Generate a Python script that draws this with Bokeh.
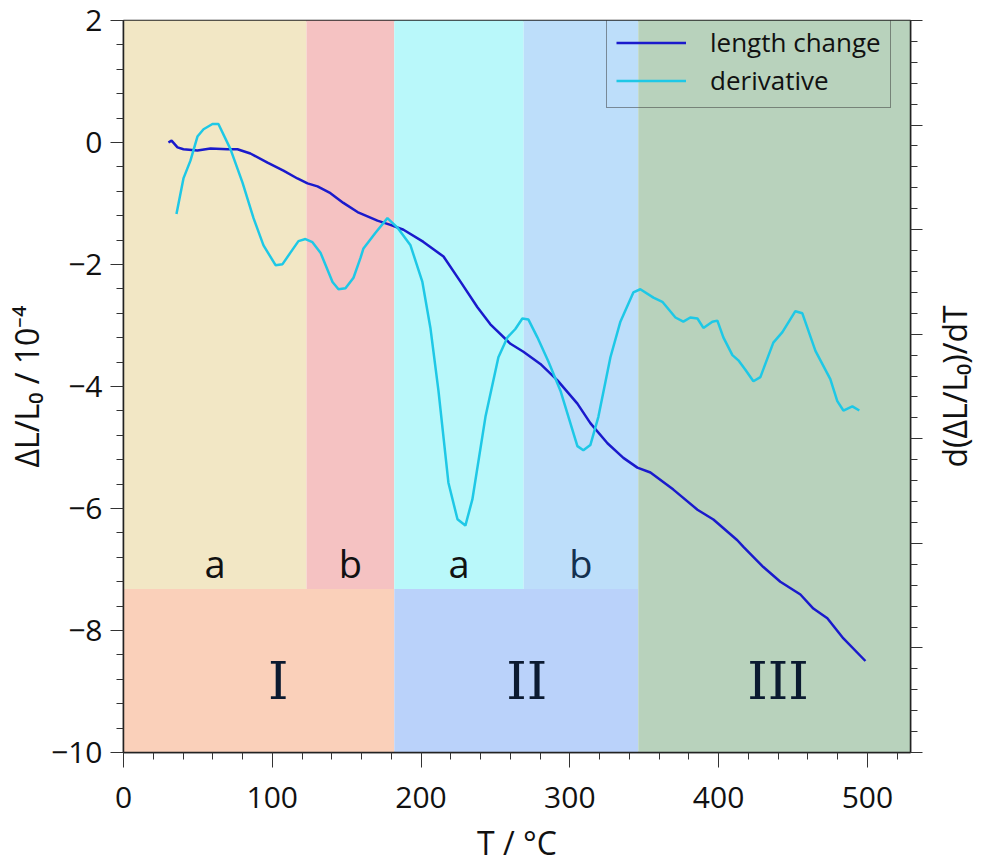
import numpy as np
from bokeh.plotting import figure
from bokeh.layouts import row
from bokeh.models import (Range1d, LinearAxis, SingleIntervalTicker, Legend, LegendItem,
                          CustomLabelingPolicy)
from bokeh.core.properties import value
from bokeh.embed import file_html
from bokeh.resources import INLINE

# ---- data ----
T_len = [30.2, 32.3, 36.3, 40.3, 49.7, 58.5, 69.9, 76.6, 85.3, 96.8, 107.5, 116.9, 123.7, 130.4,
         139.1, 147.8, 157.3, 170.7, 179.4, 188.2, 201.6, 215.1, 226.5, 237.9, 246.6, 260.1,
         268.8, 280.2, 291.7, 305.1, 313.8, 325.3, 336.0, 345.4, 354.2, 369.6, 385.8, 396.5,
         412.6, 416.7, 430.1, 441.5, 455.0, 463.7, 473.1, 483.9, 498.7]
dL = [0.00, 0.03, -0.08, -0.11, -0.13, -0.10, -0.11, -0.11, -0.18, -0.33, -0.46, -0.59, -0.67, -0.72,
      -0.83, -0.99, -1.14, -1.28, -1.35, -1.43, -1.63, -1.87, -2.28, -2.70, -2.98, -3.30,
      -3.43, -3.63, -3.90, -4.28, -4.60, -4.93, -5.17, -5.33, -5.41, -5.69, -6.02, -6.18,
      -6.52, -6.63, -6.96, -7.20, -7.41, -7.64, -7.80, -8.13, -8.50]

T_der = [35.6, 40.3, 45.0, 49.7, 53.8, 59.8, 63.8, 71.9, 80.0, 87.4, 94.1, 102.2, 106.9, 112.2,
         117.6, 122.3, 127.0, 132.4, 140.5, 144.5, 149.2, 154.6, 159.3, 161.3, 169.4, 177.4,
         184.1, 192.9, 200.9, 206.3, 211.7, 218.4, 224.5, 229.8, 234.5, 243.3, 252.0, 258.1,
         263.4, 268.1, 272.2, 278.2, 285.6, 293.7, 305.1, 309.1, 313.8, 319.2, 327.3, 334.0,
         342.7, 347.4, 356.2, 362.2, 371.0, 376.3, 381.0, 385.8, 389.8, 395.8, 399.2, 403.2,
         409.3, 413.3, 418.0, 423.4, 428.1, 436.8, 442.9, 451.6, 456.3, 465.1, 475.1, 479.8,
         483.9, 489.9, 494.6]
dDer = [0.15, 0.49, 0.66, 0.89, 0.96, 1.01, 1.01, 0.77, 0.45, 0.11, -0.15, -0.34, -0.33, -0.22,
        -0.11, -0.09, -0.12, -0.22, -0.50, -0.57, -0.56, -0.46, -0.27, -0.18, -0.03, 0.11,
        0.02, -0.15, -0.50, -0.94, -1.54, -2.42, -2.77, -2.83, -2.58, -1.79, -1.22, -1.03,
        -0.95, -0.85, -0.86, -1.03, -1.26, -1.54, -2.07, -2.11, -2.06, -1.79, -1.22, -0.88,
        -0.60, -0.57, -0.65, -0.69, -0.84, -0.88, -0.84, -0.85, -0.94, -0.88, -0.87, -1.03,
        -1.20, -1.25, -1.34, -1.45, -1.41, -1.08, -0.98, -0.78, -0.80, -1.16, -1.43, -1.64,
        -1.73, -1.69, -1.73]

# sub-stage bands (a/b)
sub_left = [0, 123, 182, 269]
sub_right = [123, 182, 269, 346]
sub_colors = ["#f2e7c5", "#f5c2c2", "#b9f8fa", "#bddefa"]
sub_names = ["a", "b", "a", "b"]
sub_text_colors = ["#111111", "#111111", "#111111", "#14304f"]

# stage bands (I/II/III)
stage_left = [0, 182, 346]
stage_right = [182, 346, 530]
stage_colors = ["#fad0ba", "#bad2fa", "#b8d2bc"]
stage_names = ["I", "II", "III"]
stage_label_x = [104, 271, 440]

band_split = -7.32
x_min, x_max = 0, 529
y_min, y_max = -10, 2
der_min, der_max = -5, 2

FONT = "Open Sans"
TOP, BOTTOM = 20, 114

HIDE_LABELS = "for (const i of Array.from(indices)) { indices.unset(i) }; return indices"

p = figure(width=927, height=866, output_backend="svg", toolbar_location=None,
           x_range=Range1d(x_min, x_max), y_range=Range1d(y_min, y_max),
           min_border_left=123, min_border_right=17, min_border_top=TOP, min_border_bottom=BOTTOM)
p.extra_y_ranges = {"deriv": Range1d(der_min, der_max)}
p.grid.visible = False
p.background_fill_color = "white"
p.outline_line_color = "#222222"
p.outline_line_width = 1.5

# bands
p.quad(left=sub_left, right=sub_right, bottom=[band_split] * len(sub_left), top=[y_max] * len(sub_left),
       fill_color=sub_colors, line_color=None)
p.quad(left=stage_left, right=stage_right, bottom=[y_min] * 3,
       top=[band_split, band_split, y_max], fill_color=stage_colors, line_color=None)

# band labels
sub_x = [(l + r) / 2 for l, r in zip(sub_left, sub_right)]
p.text(x=sub_x, y=[-6.9] * 4, text=sub_names, text_color=sub_text_colors,
       text_font=value(FONT), text_font_size="38px", text_align="center", text_baseline="middle")
p.text(x=stage_label_x, y=[-8.83] * 3, text=stage_names, text_color="#0b1a30",
       text_font=value("DejaVu Serif"), text_font_size="52px", text_align="center", text_baseline="middle")

# curves
r1 = p.line(T_len, dL, line_color="#1a1acc", line_width=2.5)
r2 = p.line(T_der, dDer, line_color="#1ec8e6", line_width=2.5, y_range_name="deriv")

legend = Legend(items=[LegendItem(label="length change", renderers=[r1]),
                       LegendItem(label="derivative", renderers=[r2])],
                location=(483, 644), margin=0, padding=9, spacing=2,
                glyph_width=70, glyph_height=27, label_height=27, label_standoff=24,
                label_text_font=FONT, label_text_font_size="26px", label_text_color="#111111",
                background_fill_alpha=0, border_line_color="#333333", border_line_width=1.5)
p.add_layout(legend, "center")

# axes styling
def style(ax, out_major, out_minor):
    ax.axis_line_color = "#222222"
    ax.axis_line_width = 1.5
    ax.major_tick_line_color = "#333333"
    ax.minor_tick_line_color = "#333333"
    ax.major_tick_in = 0
    ax.minor_tick_in = 0
    ax.major_tick_out = out_major
    ax.minor_tick_out = out_minor
    ax.major_label_text_font = FONT
    ax.major_label_text_font_size = "30px"
    ax.major_label_text_color = "#111111"
    ax.axis_label_text_font = FONT
    ax.axis_label_text_font_size = "32px"
    ax.axis_label_text_font_style = "normal"
    ax.axis_label_text_color = "#111111"

xa = p.xaxis[0]
xa.ticker = SingleIntervalTicker(interval=100, num_minor_ticks=5)
style(xa, 15, 7)
xa.axis_label = "T / °C"
xa.major_label_standoff = 19
xa.axis_label_standoff = 10

ya = p.yaxis[0]
ya.ticker = SingleIntervalTicker(interval=2, num_minor_ticks=5)
style(ya, 13, 7)
ya.axis_label = "ΔL/L₀ / 10⁻⁴"
ya.major_label_standoff = 8
ya.axis_label_standoff = 0
ya.major_label_overrides = {v: ("−" + str(abs(v)) if v < 0 else str(v)) for v in range(-10, 3, 2)}

ra = LinearAxis(y_range_name="deriv", ticker=SingleIntervalTicker(interval=1, num_minor_ticks=5))
style(ra, 12, 7)
ra.major_label_text_font_size = "2px"
ra.major_label_policy = CustomLabelingPolicy(code=HIDE_LABELS)
ra.major_label_standoff = 0
p.add_layout(ra, "right")

# narrow companion panel carrying the right-hand axis title (reads bottom-to-top)
p2 = figure(width=55, height=866, output_backend="svg", toolbar_location=None,
            x_range=Range1d(0, 1), y_range=Range1d(der_min, der_max),
            min_border_left=54, min_border_right=0, min_border_top=TOP, min_border_bottom=BOTTOM)
p2.outline_line_color = None
p2.grid.visible = False
p2.xaxis.visible = False
a2 = p2.yaxis[0]
a2.axis_line_color = None
a2.major_tick_line_color = None
a2.minor_tick_line_color = None
a2.major_label_text_font_size = "2px"
a2.major_label_policy = CustomLabelingPolicy(code=HIDE_LABELS)
a2.major_label_standoff = 0
a2.axis_label = "d(ΔL/L₀)/dT"
a2.axis_label_standoff = -6
a2.axis_label_text_font = FONT
a2.axis_label_text_font_size = "32px"
a2.axis_label_text_font_style = "normal"
a2.axis_label_text_color = "#111111"

layout = row(p, p2, spacing=0)
open("out.html", "w").write(file_html(layout, INLINE))
